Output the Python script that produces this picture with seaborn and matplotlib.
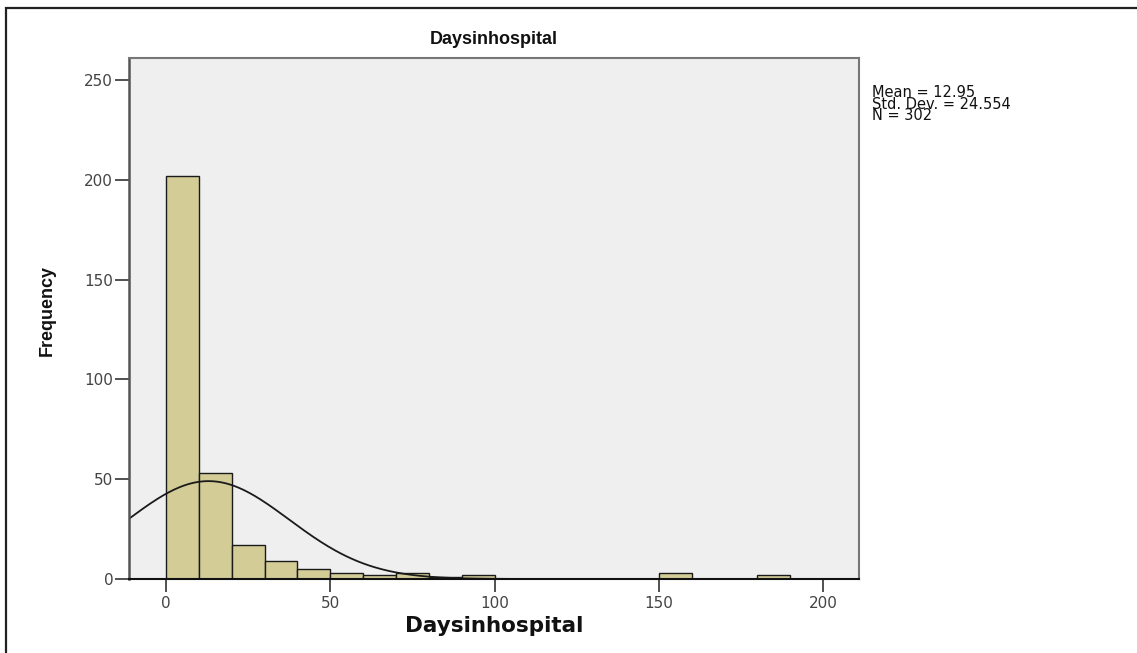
import numpy as np
import pandas as pd
import matplotlib
matplotlib.use("Agg")
import matplotlib.pyplot as plt
import matplotlib.patches as mpatches
from matplotlib.font_manager import FontProperties
import seaborn as sns

# ---- data ----
bin_edges = [0, 10, 20, 30, 40, 50, 60, 70, 80, 90, 100, 110, 120, 130, 140, 150, 160, 170, 180, 190, 200]
bin_counts = [202, 53, 17, 9, 5, 3, 2, 3, 1, 2, 0, 0, 0, 0, 0, 3, 0, 0, 2, 0]
stat_mean = 12.95
stat_sd = 24.554
stat_n = 302
x_ticks = [0, 50, 100, 150, 200]
y_ticks = [0, 50, 100, 150, 200, 250]
title_text = "Daysinhospital"
x_label = "Daysinhospital"
y_label = "Frequency"

W, H = 1137, 653
sns.set_theme(style="white")
plt.rcParams['font.family'] = ['DejaVu Sans']

wide_fp = FontProperties(family=["DejaVu Sans"], stretch="normal", size=11)
narrow_bold = ["Liberation Sans Narrow", "Liberation Sans", "DejaVu Sans"]

fig = plt.figure(figsize=(W / 100, H / 100), dpi=100)
fig.patch.set_facecolor("white")
L, R, T, B = 128.5, 859.3, 58.3, 579.0
ax = fig.add_axes([L / W, 1 - B / H, (R - L) / W, (B - T) / H])
ax.set_facecolor("#efefef")

df = pd.DataFrame({
    "mid": [(bin_edges[i] + bin_edges[i + 1]) / 2 for i in range(len(bin_counts))],
    "count": bin_counts,
})
sns.histplot(data=df, x="mid", weights="count", bins=bin_edges, ax=ax,
             color="#d3cc97", edgecolor="#1a1a1a", linewidth=1.0, alpha=1.0)

# fitted normal curve from the reported mean / sd / N
xmin, xmax = -11.4, 211.0
xs = np.linspace(xmin, xmax, 400)
bw = bin_edges[1] - bin_edges[0]
ys = stat_n * bw / (stat_sd * np.sqrt(2 * np.pi)) * np.exp(-0.5 * ((xs - stat_mean) / stat_sd) ** 2)
sns.lineplot(x=xs, y=ys, ax=ax, color="#1a1a1a", linewidth=1.3)

ax.set_xlim(xmin, xmax)
ax.set_ylim(0, 261)
ax.set_xticks(x_ticks)
ax.set_yticks(y_ticks)
ax.tick_params(axis="x", which="major", direction="out", length=9, width=1.2,
               color="#333333", labelcolor="#444444", pad=3, bottom=True)
ax.tick_params(axis="y", which="major", direction="out", length=10, width=1.2,
               color="#333333", labelcolor="#444444", pad=1, left=True)
ax.set_xticklabels([str(v) for v in x_ticks], fontproperties=wide_fp)
ax.set_yticklabels([str(v) for v in y_ticks], fontproperties=wide_fp)

for side in ["top", "right"]:
    ax.spines[side].set_color("#777777")
    ax.spines[side].set_linewidth(1.5)
ax.spines["left"].set_color("#555555")
ax.spines["left"].set_linewidth(1.8)
ax.spines["bottom"].set_color("#111111")
ax.spines["bottom"].set_linewidth(1.5)

ax.set_xlabel(x_label, color="#111111", labelpad=4,
              fontproperties=FontProperties(family=["DejaVu Sans"], stretch="normal",
                                            weight="bold", size=15.5))
ax.set_ylabel(y_label, color="#111111",
              fontproperties=FontProperties(family=narrow_bold, weight="bold", size=13))
ax.yaxis.set_label_coords((56 - L) / (R - L), (B - 310) / (B - T))

fig.text((L + R) / 2 / W, 1 - 40 / H, title_text, ha="center", va="center",
         color="#111111",
         fontproperties=FontProperties(family=narrow_bold, weight="bold", size=13))

fig.text(872 / W, 1 - 85 / H,
         "Mean = %.2f\nStd. Dev. = %.3f\nN = %d" % (stat_mean, stat_sd, stat_n),
         ha="left", va="top", color="#111111", linespacing=0.72,
         fontproperties=FontProperties(family=["DejaVu Sans"], stretch="normal", size=10.5))

# outer frame (cut off at the right and bottom in the reference)
frame = mpatches.Rectangle((6 / W, -0.2), 1.2, 0.2 + 1 - 8 / H, transform=fig.transFigure,
                           fill=False, edgecolor="#222222", linewidth=1.6, clip_on=False)
fig.patches.append(frame)

fig.savefig("out.png", dpi=100)
